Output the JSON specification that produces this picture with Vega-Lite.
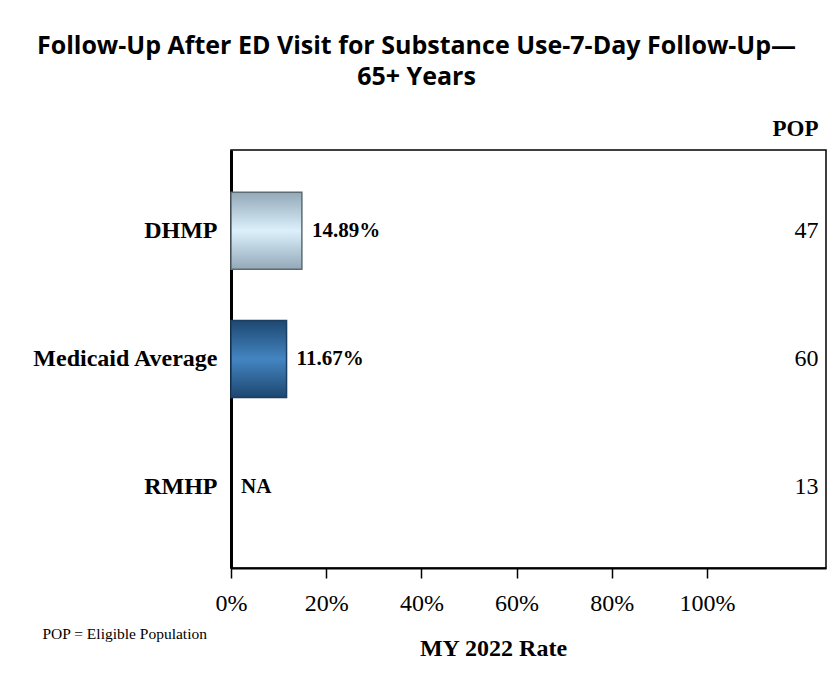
{
  "$schema": "https://vega.github.io/schema/vega-lite/v6.json",
  "autosize": {"type": "none"},
  "width": 595,
  "height": 418,
  "padding": {"left": 231, "top": 150, "right": 7, "bottom": 106},
  "background": "white",
  "config": {
    "view": {"stroke": "black", "strokeWidth": 1.5},
    "axis": {"labelColor": "black", "titleColor": "black", "labelFont": "Liberation Serif", "titleFont": "Liberation Serif", "grid": false}
  },
  "title": {
    "text": ["Follow-Up After ED Visit for Substance Use-7-Day Follow-Up—", "65+ Years"],
    "font": "Open Sans",
    "fontSize": 25,
    "fontWeight": "bold",
    "color": "black",
    "lineHeight": 31,
    "anchor": "middle",
    "dx": -112,
    "offset": 27
  },
  "data": {
    "values": [
      {"plan": "DHMP", "rate": 0.1489, "label": "14.89%", "pop": "47"},
      {"plan": "Medicaid Average", "rate": 0.1167, "label": "11.67%", "pop": "60"},
      {"plan": "RMHP", "rate": null, "label": "NA", "pop": "13"}
    ]
  },
  "layer": [
    {
      "encoding": {
        "y": {"field": "plan", "type": "nominal", "sort": null, "scale": {"type": "band", "paddingInner": 0.4, "paddingOuter": 0.33},
          "axis": {"orient": "left", "domainColor": "black", "domainWidth": 3, "ticks": false, "labelFontSize": 24, "labelFontWeight": "bold", "labelPadding": 14, "labelLimit": 400,
            "title": "POP = Eligible Population", "titleAngle": 0, "titleAlign": "left", "titleX": -189, "titleY": 483, "titleFontSize": 15.5, "titleFontWeight": "normal", "titleBaseline": "middle"}}
      },
      "layer": [
        {
          "transform": [{"filter": "datum.plan === 'DHMP'"}],
          "mark": {
            "type": "bar",
            "stroke": "#5d6b73",
            "strokeWidth": 1.5,
            "color": {"gradient": "linear", "x1": 0, "y1": 0, "x2": 0, "y2": 1,
              "stops": [{"offset": 0, "color": "#93a9b8"}, {"offset": 0.5, "color": "#dcf0fc"}, {"offset": 1, "color": "#93a9b8"}]}
          },
          "encoding": {
            "x": {"field": "rate", "type": "quantitative", "scale": {"domain": [0, 1.25], "nice": false},
              "axis": {"values": [0, 0.2, 0.4, 0.6, 0.8, 1], "format": ".0%", "labelFlush": false, "domainColor": "black", "domainWidth": 2, "tickColor": "black", "tickWidth": 1.5, "tickSize": 10, "labelFontSize": 24, "labelPadding": 13,
                "title": "MY 2022 Rate", "titleFontSize": 24, "titleFontWeight": "bold", "titleAnchor": null, "titleX": 262, "titleY": 87, "titleBaseline": "alphabetic", "titleAlign": "center"}}
          }
        },
        {
          "transform": [{"filter": "datum.plan === 'Medicaid Average'"}],
          "mark": {
            "type": "bar",
            "stroke": "#1b3f63",
            "strokeWidth": 1.5,
            "color": {"gradient": "linear", "x1": 0, "y1": 0, "x2": 0, "y2": 1,
              "stops": [{"offset": 0, "color": "#1e4770"}, {"offset": 0.5, "color": "#4385c2"}, {"offset": 1, "color": "#1e4770"}]}
          },
          "encoding": {
            "x": {"field": "rate", "type": "quantitative"}
          }
        },
        {
          "transform": [{"calculate": "datum.rate === null ? 0 : datum.rate", "as": "xpos"}],
          "mark": {"type": "text", "align": "left", "dx": 10, "font": "Liberation Serif", "fontSize": 21, "fontWeight": "bold", "color": "black"},
          "encoding": {
            "x": {"field": "xpos", "type": "quantitative"},
            "text": {"field": "label"}
          }
        }
      ]
    },
    {
      "mark": {"type": "text", "text": ""},
      "encoding": {
        "y": {"field": "pop", "type": "nominal", "sort": null, "scale": {"type": "band", "paddingInner": 0.4, "paddingOuter": 0.33},
          "axis": {"orient": "right", "domain": false, "ticks": false, "labelAlign": "right", "labelPadding": -8, "labelFontSize": 24, "labelFontWeight": "normal",
            "title": "POP", "titleAngle": 0, "titleAlign": "right", "titleX": -8, "titleY": -22, "titleBaseline": "middle", "titleFontSize": 23, "titleFontWeight": "bold"}}
      }
    }
  ],
  "resolve": {"scale": {"y": "independent"}, "axis": {"y": "independent"}}
}
